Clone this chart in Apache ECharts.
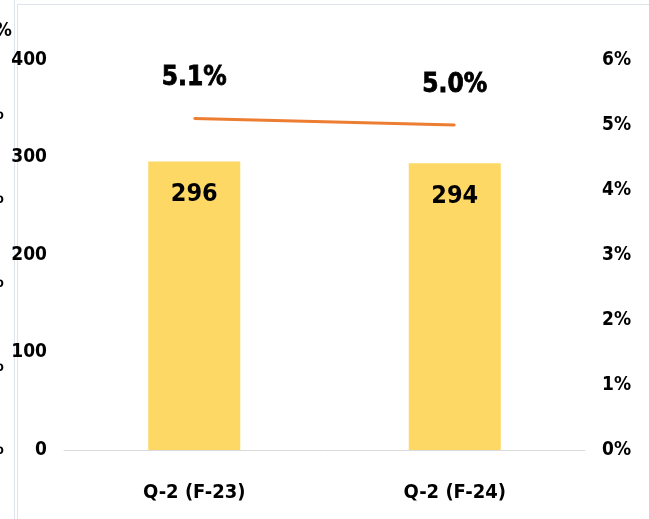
<!DOCTYPE html>
<html><head><meta charset="utf-8">
<script src="https://cdn.jsdelivr.net/npm/echarts@6/dist/echarts.min.js"></script>
<style>html,body{margin:0;padding:0;background:#fff}#c{width:649px;height:519px}</style>
</head><body><div id="c"></div>
<script>
var categories = ['Q-2 (F-23)', 'Q-2 (F-24)'];
var barValues = [296, 294];
var rateValues = [5.1, 5.0];
var leftTicks = [0, 100, 200, 300, 400];
var rightTicks = [0, 1, 2, 3, 4, 5, 6];
var FONT = '"DejaVu Sans Condensed", "Liberation Sans Narrow", "Open Sans", sans-serif';
var chart = echarts.init(document.getElementById('c'));
var border = '#dfe4ea';
chart.setOption({
  animation: false,
  grid: {left: 64, right: 64, top: 60, bottom: 69},
  xAxis: {
    type: 'category', data: categories,
    axisLine: {lineStyle: {color: '#d9d9d9'}},
    axisTick: {show: false},
    axisLabel: {color: '#000', fontWeight: 'bold', fontSize: 20, fontFamily: FONT, margin: 33}
  },
  yAxis: [{
    type: 'value', min: 0, max: 400, interval: 100,
    splitLine: {show: false}, axisLine: {show: false}, axisTick: {show: false},
    axisLabel: {color: '#000', fontWeight: 'bold', fontSize: 19, fontFamily: FONT, margin: 17}
  }, {
    type: 'value', min: 0, max: 6, interval: 1,
    splitLine: {show: false}, axisLine: {show: false}, axisTick: {show: false},
    axisLabel: {color: '#000', fontWeight: 'bold', fontSize: 19, fontFamily: FONT, margin: 17, formatter: '{value}%'}
  }],
  series: [{
    type: 'bar', data: barValues, barWidth: 92,
    itemStyle: {color: '#FDD865'},
    label: {show: true, position: 'insideTop', distance: 21, color: '#000', fontWeight: 'bold', fontSize: 25, fontFamily: FONT}
  }, {
    type: 'line', yAxisIndex: 1, data: rateValues,
    symbol: 'circle', symbolSize: 2, showSymbol: true, itemStyle: {color: '#ED7D31'},
    lineStyle: {color: '#ED7D31', width: 3},
    label: {show: true, position: 'top', distance: 26, color: '#000', fontWeight: 'bold', fontSize: 26, fontFamily: FONT,
      textBorderColor: '#000', textBorderWidth: 0.8,
      formatter: function(p){ return p.value.toFixed(1) + '%'; }}
  }],
  graphic: [
    {type: 'line', shape: {x1: 14.5, y1: 0, x2: 14.5, y2: 519}, style: {stroke: border, lineWidth: 1}},
    {type: 'line', shape: {x1: 17.5, y1: 4, x2: 17.5, y2: 519}, style: {stroke: border, lineWidth: 1}},
    {type: 'line', shape: {x1: 17, y1: 4.5, x2: 649, y2: 4.5}, style: {stroke: border, lineWidth: 1}},
    {type: 'text', x: 12, y: 31, style: {text: '6%', align: 'right', verticalAlign: 'middle', fill: '#000', font: 'bold 19px ' + FONT}},
    {type: 'text', x: 4, y: 114, style: {text: '5%', align: 'right', verticalAlign: 'middle', fill: '#000', font: 'bold 19px ' + FONT}},
    {type: 'text', x: 4, y: 198, style: {text: '4%', align: 'right', verticalAlign: 'middle', fill: '#000', font: 'bold 19px ' + FONT}},
    {type: 'text', x: 4, y: 282, style: {text: '3%', align: 'right', verticalAlign: 'middle', fill: '#000', font: 'bold 19px ' + FONT}},
    {type: 'text', x: 4, y: 366, style: {text: '2%', align: 'right', verticalAlign: 'middle', fill: '#000', font: 'bold 19px ' + FONT}},
    {type: 'text', x: 4, y: 449, style: {text: '1%', align: 'right', verticalAlign: 'middle', fill: '#000', font: 'bold 19px ' + FONT}}
  ]
});
</script></body></html>
